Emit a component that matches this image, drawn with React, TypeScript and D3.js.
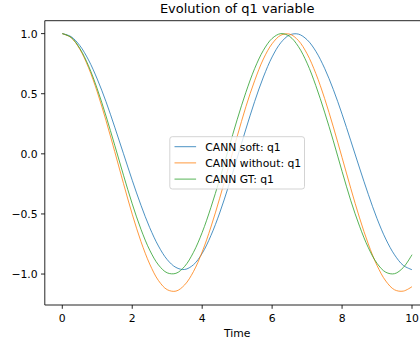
import React from 'react';
import * as d3 from 'd3';

const times = [0, 0.25, 0.5, 0.75, 1, 1.25, 1.5, 1.75, 2, 2.25, 2.5, 2.75, 3, 3.25, 3.5, 3.75, 4, 4.25, 4.5, 4.75, 5, 5.25, 5.5, 5.75, 6, 6.25, 6.5, 6.75, 7, 7.25, 7.5, 7.75, 8, 8.25, 8.5, 8.75, 9, 9.25, 9.5, 9.75, 10];

const softQ1 = [1.0, 0.975, 0.901, 0.781, 0.622, 0.434, 0.222, 0.001, -0.22, -0.428, -0.614, -0.767, -0.88, -0.945, -0.962, -0.923, -0.828, -0.68, -0.492, -0.272, -0.035, 0.206, 0.435, 0.639, 0.806, 0.925, 0.989, 0.996, 0.949, 0.853, 0.712, 0.535, 0.33, 0.108, -0.118, -0.337, -0.539, -0.709, -0.84, -0.928, -0.964];

const withoutQ1 = [1.0, 0.967, 0.871, 0.717, 0.515, 0.277, 0.018, -0.247, -0.502, -0.73, -0.917, -1.054, -1.13, -1.142, -1.09, -0.98, -0.816, -0.609, -0.37, -0.113, 0.144, 0.392, 0.608, 0.789, 0.916, 0.987, 0.996, 0.943, 0.832, 0.668, 0.461, 0.224, -0.031, -0.288, -0.533, -0.75, -0.929, -1.058, -1.131, -1.142, -1.105];

const gtQ1 = [1.0, 0.969, 0.878, 0.732, 0.54, 0.315, 0.071, -0.178, -0.416, -0.628, -0.801, -0.924, -0.99, -0.994, -0.936, -0.82, -0.654, -0.446, -0.211, 0.038, 0.284, 0.512, 0.709, 0.861, 0.96, 1.0, 0.977, 0.893, 0.754, 0.567, 0.347, 0.108, -0.146, -0.39, -0.602, -0.78, -0.911, -0.985, -0.997, -0.946, -0.839];

const seriesNames = ['CANN soft: q1', 'CANN without: q1', 'CANN GT: q1'];
const seriesColors = ['#1f77b4', '#ff7f0e', '#2ca02c'];
const xTicks = [0, 2, 4, 6, 8, 10];
const yTicks = [-1.0, -0.5, 0.0, 0.5, 1.0];
const title = 'Evolution of q1 variable';
const xLabel = 'Time';

const W = 420;
const H = 345;
const left = 44.8;
const right = 429.5;
const top = 20.7;
const bottom = 305;
const font = 'DejaVu Sans, sans-serif';

export default function App() {
  const x = d3.scaleLinear().domain([-0.5, 10.5]).range([left, right]);
  const y = d3.scaleLinear().domain([-1.2575, 1.1075]).range([bottom, top]);
  const allSeries = [softQ1, withoutQ1, gtQ1];
  const line = d3
    .line<number>()
    .x((_, i) => x(times[i]))
    .y((d) => y(d))
    .curve(d3.curveCatmullRom);
  const fmt = d3.format('.1f');
  const cx = (left + right) / 2;
  const cy = (top + bottom) / 2;
  const legW = 134.7;
  const legH = 52.3;
  const legX = cx - legW / 2;
  const legY = cy - legH / 2;
  return (
    <svg
      width={W}
      height={H}
      style={{ position: 'absolute', left: 0, top: 0, background: '#fff' }}
      fontFamily={font}
    >
      <rect x={0} y={0} width={W} height={H} fill="#fff" />
      <defs>
        <clipPath id="plot">
          <rect x={left} y={top} width={right - left} height={bottom - top} />
        </clipPath>
      </defs>
      <g clipPath="url(#plot)">
        {allSeries.map((s, i) => (
          <path
            key={i}
            d={line(s) || ''}
            fill="none"
            stroke={seriesColors[i]}
            strokeWidth={1}
            strokeOpacity={0.8}
          />
        ))}
      </g>
      {/* spines */}
      <line x1={left} x2={left} y1={top} y2={bottom} stroke="#000" strokeWidth={0.86} />
      <line x1={left} x2={right} y1={bottom} y2={bottom} stroke="#000" strokeWidth={0.86} />
      <line x1={left} x2={right} y1={top} y2={top} stroke="#000" strokeWidth={0.86} />
      <line x1={right} x2={right} y1={top} y2={bottom} stroke="#000" strokeWidth={0.86} />
      {/* x ticks */}
      {xTicks.map((t) => (
        <g key={'x' + t}>
          <line x1={x(t)} x2={x(t)} y1={bottom} y2={bottom + 3.8} stroke="#000" strokeWidth={0.86} />
          <text x={x(t)} y={321.7} fontSize={10.8} textAnchor="middle" fill="#000">
            {String(t)}
          </text>
        </g>
      ))}
      {/* y ticks */}
      {yTicks.map((t) => (
        <g key={'y' + t}>
          <line x1={left - 3.8} x2={left} y1={y(t)} y2={y(t)} stroke="#000" strokeWidth={0.86} />
          <text x={37.6} y={y(t) + 3.9} fontSize={10.8} textAnchor="end" fill="#000">
            {fmt(t)}
          </text>
        </g>
      ))}
      <text x={cx} y={336.5} fontSize={10.8} textAnchor="middle" fill="#000">
        {xLabel}
      </text>
      <text x={cx} y={12.7} fontSize={13} textAnchor="middle" fill="#000">
        {title}
      </text>
      {/* legend */}
      <rect
        x={legX}
        y={legY}
        width={legW}
        height={legH}
        rx={2.5}
        fill="#fff"
        fillOpacity={0.8}
        stroke="#cccccc"
        strokeWidth={0.86}
      />
      {seriesNames.map((n, i) => {
        const ry = legY + 10 + i * 16.2;
        return (
          <g key={n}>
            <line
              x1={legX + 4.7}
              x2={legX + 26.3}
              y1={ry}
              y2={ry}
              stroke={seriesColors[i]}
              strokeWidth={1}
              strokeOpacity={0.8}
            />
            <text x={legX + 35.5} y={ry + 3.9} fontSize={10.8} fill="#000">
              {n}
            </text>
          </g>
        );
      })}
    </svg>
  );
}
